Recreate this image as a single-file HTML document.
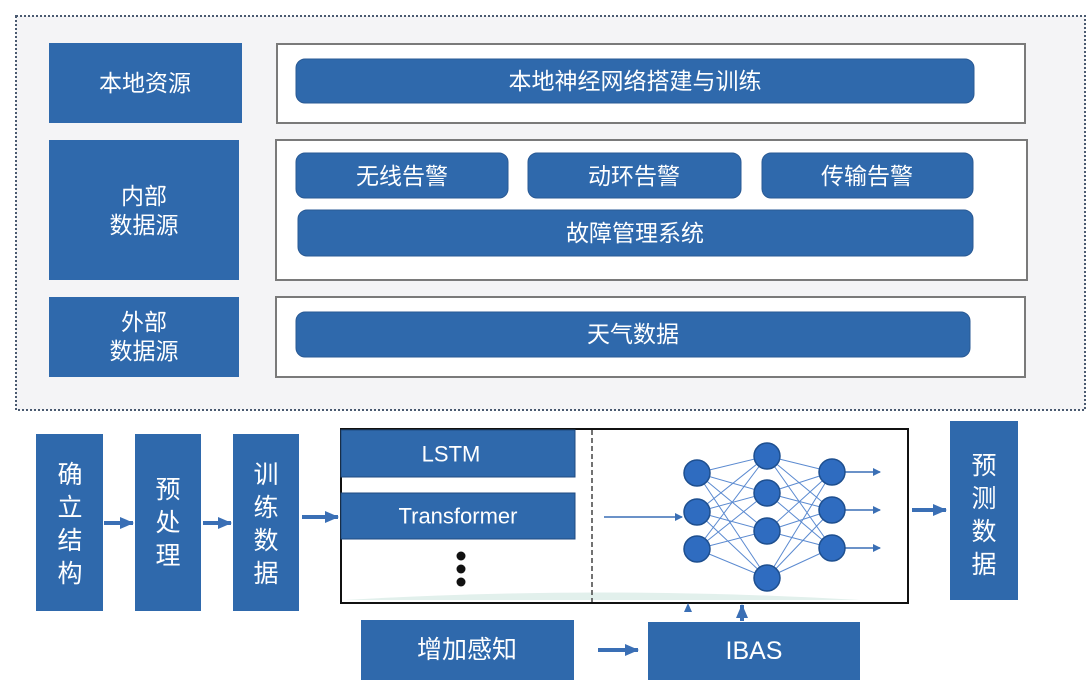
<!DOCTYPE html>
<html><head><meta charset="utf-8"><style>
body{margin:0;background:#fff;}
svg text{font-family:"Liberation Sans","Noto Sans CJK SC",sans-serif;fill:#fff;text-anchor:middle;dominant-baseline:central;}
</style></head><body>
<svg width="1089" height="693" viewBox="0 0 1089 693" xmlns="http://www.w3.org/2000/svg">
<defs>
<marker id="ah" markerWidth="8" markerHeight="8" refX="7" refY="4" orient="auto" markerUnits="userSpaceOnUse"><path d="M0,0 L8,4 L0,8z" fill="#3a6fb5"/></marker>
<marker id="ab" markerWidth="14" markerHeight="12" refX="13" refY="6" orient="auto" markerUnits="userSpaceOnUse"><path d="M0,0 L14,6 L0,12z" fill="#3a6fb5"/></marker>
</defs>
<rect x="16" y="16" width="1069" height="394" fill="#f4f4f6" stroke="#4a5a70" stroke-width="2" stroke-dasharray="2,2"/>
<g fill="#2f69ac">
<rect x="49" y="43" width="193" height="80"/>
<rect x="49" y="140" width="190" height="140"/>
<rect x="49" y="297" width="190" height="80"/>
</g>
<g fill="#fff" stroke="#7a7a7a" stroke-width="2">
<rect x="277" y="44" width="748" height="79"/>
<rect x="276" y="140" width="751" height="140"/>
<rect x="276" y="297" width="749" height="80"/>
</g>
<g fill="#2f69ac" stroke="#2a5a94" stroke-width="1">
<rect x="296" y="59" width="678" height="44" rx="9"/>
<rect x="296" y="153" width="212" height="45" rx="9"/>
<rect x="528" y="153" width="213" height="45" rx="9"/>
<rect x="762" y="153" width="211" height="45" rx="9"/>
<rect x="298" y="210" width="675" height="46" rx="9"/>
<rect x="296" y="312" width="674" height="45" rx="9"/>
</g>
<g font-size="23">
<text x="145" y="83">本地资源</text>
<text x="144" y="196">内部</text><text x="144" y="225">数据源</text>
<text x="144" y="322">外部</text><text x="144" y="351">数据源</text>
<text x="635" y="81">本地神经网络搭建与训练</text>
<text x="402" y="176">无线告警</text>
<text x="634" y="176">动环告警</text>
<text x="867" y="176">传输告警</text>
<text x="635" y="233">故障管理系统</text>
<text x="633" y="334">天气数据</text>
</g>
<g fill="#2f69ac">
<rect x="36" y="434" width="67" height="177"/>
<rect x="135" y="434" width="66" height="177"/>
<rect x="233" y="434" width="66" height="177"/>
<rect x="950" y="421" width="68" height="179"/>
<rect x="361" y="620" width="213" height="60"/>
<rect x="648" y="622" width="212" height="58"/>
</g>
<g font-size="25">
<text x="70" y="475">确</text><text x="70" y="508">立</text><text x="70" y="541">结</text><text x="70" y="574">构</text>
<text x="168" y="490">预</text><text x="168" y="523">处</text><text x="168" y="556">理</text>
<text x="266" y="475">训</text><text x="266" y="508">练</text><text x="266" y="541">数</text><text x="266" y="574">据</text>
<text x="984" y="466">预</text><text x="984" y="499">测</text><text x="984" y="532">数</text><text x="984" y="565">据</text>
<text x="467" y="650">增加感知</text>
<text x="754" y="651">IBAS</text>
</g>
<g stroke="#3a6fb5" stroke-width="4">
<line x1="104" y1="523" x2="133" y2="523" marker-end="url(#ab)"/>
<line x1="203" y1="523" x2="231" y2="523" marker-end="url(#ab)"/>
<line x1="302" y1="517" x2="338" y2="517" marker-end="url(#ab)"/>
<line x1="912" y1="510" x2="946" y2="510" marker-end="url(#ab)"/>
<line x1="598" y1="650" x2="638" y2="650" marker-end="url(#ab)"/>
<line x1="742" y1="621" x2="742" y2="605" marker-end="url(#ab)"/>
</g>
<rect x="341" y="429" width="567" height="174" fill="#fff" stroke="#111" stroke-width="2"/>
<path d="M345,600 Q600,585 860,600 Z" fill="#e2f0ec"/>
<line x1="592" y1="430" x2="592" y2="602" stroke="#444" stroke-width="1.5" stroke-dasharray="5,3"/>
<rect x="341" y="430" width="234" height="47" fill="#2f69ac" stroke="#1f4a80"/>
<rect x="341" y="493" width="234" height="46" fill="#2f69ac" stroke="#1f4a80"/>
<text x="451" y="454" font-size="22">LSTM</text>
<text x="458" y="516" font-size="22">Transformer</text>
<g fill="#111"><circle cx="461" cy="556" r="4.5"/><circle cx="461" cy="569" r="4.5"/><circle cx="461" cy="582" r="4.5"/></g>
<line x1="604" y1="517" x2="682" y2="517" stroke="#3a6fb5" stroke-width="1.5" marker-end="url(#ah)"/>
<g stroke="#5b8ad0" stroke-width="1">
<path d="M697,473L767,456M697,473L767,493M697,473L767,531M697,473L767,578M697,512L767,456M697,512L767,493M697,512L767,531M697,512L767,578M697,549L767,456M697,549L767,493M697,549L767,531M697,549L767,578M767,456L832,472M767,456L832,510M767,456L832,548M767,493L832,472M767,493L832,510M767,493L832,548M767,531L832,472M767,531L832,510M767,531L832,548M767,578L832,472M767,578L832,510M767,578L832,548"/>
</g>
<g stroke="#3a6fb5" stroke-width="1.5">
<line x1="845" y1="472" x2="880" y2="472" marker-end="url(#ah)"/>
<line x1="845" y1="510" x2="880" y2="510" marker-end="url(#ah)"/>
<line x1="845" y1="548" x2="880" y2="548" marker-end="url(#ah)"/>
</g>
<g fill="#2f6cc0" stroke="#1e4f8f" stroke-width="1.5">
<circle cx="697" cy="473" r="13"/><circle cx="697" cy="512" r="13"/><circle cx="697" cy="549" r="13"/>
<circle cx="767" cy="456" r="13"/><circle cx="767" cy="493" r="13"/><circle cx="767" cy="531" r="13"/><circle cx="767" cy="578" r="13"/>
<circle cx="832" cy="472" r="13"/><circle cx="832" cy="510" r="13"/><circle cx="832" cy="548" r="13"/>
</g>
<path d="M684,612 L688,603 L692,612Z" fill="#3a6fb5"/>
</svg>
</body></html>
